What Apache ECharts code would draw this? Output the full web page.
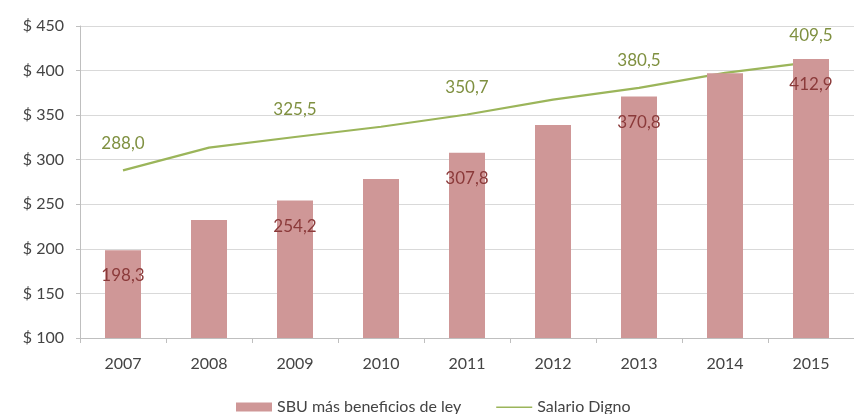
<!DOCTYPE html>
<html><head><meta charset="utf-8">
<script src="https://cdn.jsdelivr.net/npm/echarts@6/dist/echarts.min.js"></script>
<style>html,body{margin:0;padding:0;background:#fff}#c{width:854px;height:414px}</style>
</head><body><div id="c"></div>
<script>
const years = ['2007','2008','2009','2010','2011','2012','2013','2014','2015'];
const sbu = [198.3, 232.3, 254.2, 278.5, 307.8, 339.0, 370.8, 397.0, 412.9];
const salarioDigno = [288.0, 313.5, 325.5, 337.0, 350.7, 367.5, 380.5, 397.5, 409.5];
const yTicks = [100, 450, 50];

const fmt = p => (p.dataIndex % 2 === 0) ? p.value.toFixed(1).replace('.', ',') : '';
const font = 'Lato, "Open Sans", sans-serif';
const green = '#9bb55a';
const chart = echarts.init(document.getElementById('c'));
chart.setOption({
  animation: false,
  textStyle: {fontFamily: font},
  grid: {left: 80, top: 26, bottom: 76, width: 787},
  legend: {
    top: 394, left: 231, itemWidth: 36, itemHeight: 9, itemGap: 35,
    textStyle: {fontSize: 16, color: '#444', fontFamily: font},
    data: [
      {name: 'SBU más beneficios de ley', icon: 'rect'},
      {name: 'Salario Digno', icon: 'path://M0,0 L0.01,0 Z M0,4 L36,4 L36,5.6 L0,5.6 Z M0,9 L0.01,9 Z',
       itemStyle: {color: green, opacity: 1}}
    ]
  },
  xAxis: {
    type: 'category', data: years, boundaryGap: true,
    axisLine: {lineStyle: {color: '#bfbfbf'}},
    axisTick: {show: true, length: 5, lineStyle: {color: '#bfbfbf'}},
    axisLabel: {color: '#444', fontSize: 16, margin: 18}
  },
  yAxis: {
    type: 'value', min: yTicks[0], max: yTicks[1], interval: yTicks[2],
    axisLine: {show: true, lineStyle: {color: '#bfbfbf'}},
    axisTick: {show: true, length: 4, lineStyle: {color: '#bfbfbf'}},
    splitLine: {lineStyle: {color: '#d9d9d9'}},
    axisLabel: {color: '#444', fontSize: 16, margin: 16, formatter: '$ {value}'}
  },
  series: [
    {
      name: 'SBU más beneficios de ley', type: 'bar', data: sbu, barWidth: 36, z: 4,
      itemStyle: {color: '#cf9797'},
      label: {show: true, position: 'insideTop', distance: 17, color: '#8b3a3a', fontSize: 17, formatter: fmt}
    },
    {
      name: 'Salario Digno', type: 'line', data: salarioDigno, z: 3,
      symbol: 'circle', symbolSize: 1, showSymbol: true,
      lineStyle: {color: green, width: 2.2}, itemStyle: {color: 'rgba(0,0,0,0)'},
      label: {show: true, position: 'top', distance: 18, color: '#7f9040', fontSize: 17, formatter: fmt}
    }
  ]
});
</script></body></html>
